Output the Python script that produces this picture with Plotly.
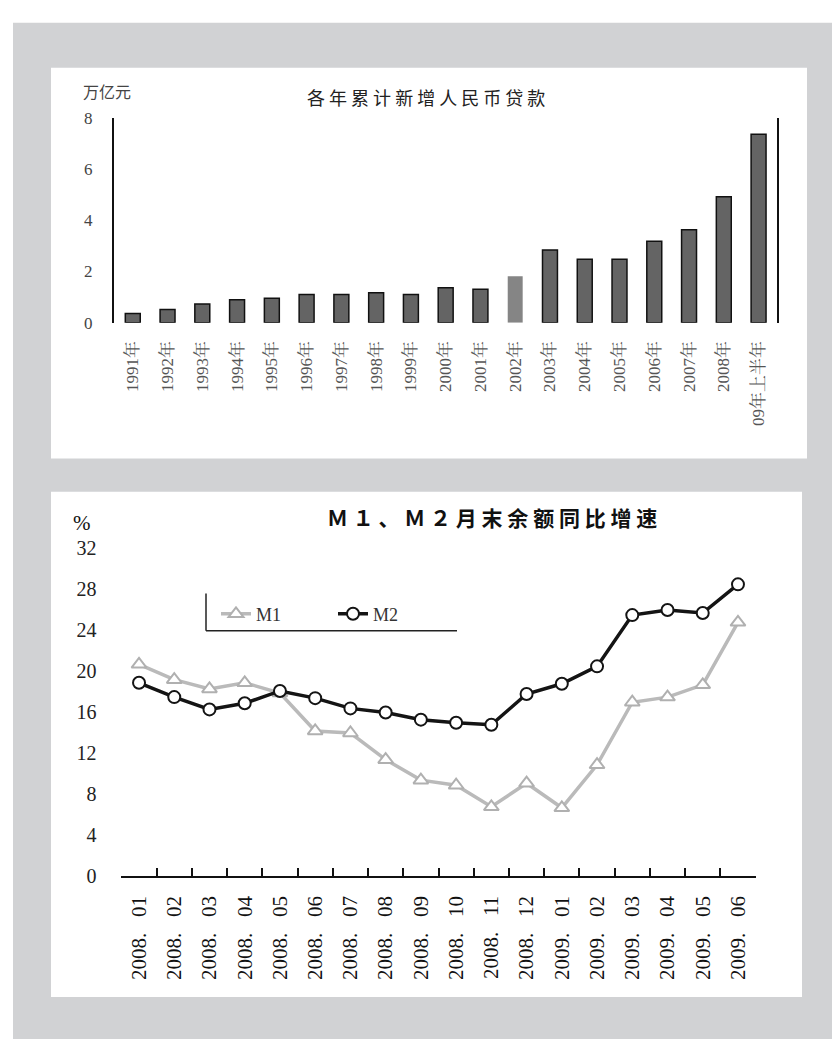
import plotly.graph_objects as go

# ---------------- data ----------------
years = ["1991年", "1992年", "1993年", "1994年", "1995年", "1996年", "1997年",
         "1998年", "1999年", "2000年", "2001年", "2002年", "2003年", "2004年",
         "2005年", "2006年", "2007年", "2008年", "09年上半年"]
new_loans = [0.36, 0.51, 0.73, 0.89, 0.95, 1.10, 1.10, 1.17, 1.10, 1.36, 1.30,
             1.81, 2.84, 2.47, 2.47, 3.18, 3.63, 4.91, 7.35]

months = ["2008. 01", "2008. 02", "2008. 03", "2008. 04", "2008. 05", "2008. 06",
          "2008. 07", "2008. 08", "2008. 09", "2008. 10", "2008. 11", "2008. 12",
          "2009. 01", "2009. 02", "2009. 03", "2009. 04", "2009. 05", "2009. 06"]
m1 = [20.7, 19.2, 18.3, 18.9, 17.9, 14.2, 14.0, 11.4, 9.4, 8.9, 6.8, 9.1,
      6.7, 10.9, 17.0, 17.5, 18.7, 24.8]
m2 = [18.9, 17.5, 16.3, 16.9, 18.1, 17.4, 16.4, 16.0, 15.3, 15.0, 14.8, 17.8,
      18.8, 20.5, 25.5, 26.0, 25.7, 28.5]

top_title = "各年累计新增人民币贷款"
top_unit = "万亿元"
bottom_title = "Ｍ１、Ｍ２月末余额同比增速"

# ---------------- layout helpers ----------------
W, H = 832, 1050
def px(x):
    return x / W
def py(y):
    return 1 - y / H

SERIF = "Liberation Serif, Noto Serif CJK SC, Noto Sans CJK SC, serif"
CJK = "Noto Sans CJK SC, sans-serif"

bar_colors = ["#858585" if y == "2002年" else "#646464" for y in years]
bar_line = ["rgba(0,0,0,0)" if y == "2002年" else "#111111" for y in years]

fig = go.Figure()

fig.add_trace(go.Bar(
    x=years, y=new_loans, xaxis="x", yaxis="y",
    marker=dict(color=bar_colors, line=dict(color=bar_line, width=1.5)),
    showlegend=False,
))

month_labels = [m.replace(". ", ".\u2002 ") for m in months]

fig.add_trace(go.Scatter(
    x=month_labels, y=m1, xaxis="x2", yaxis="y2", name="M1",
    mode="lines+markers",
    line=dict(color="#bababa", width=3.5),
    marker=dict(symbol="triangle-up", size=13, color="white",
                line=dict(color="#b0b0b0", width=2)),
))
fig.add_trace(go.Scatter(
    x=month_labels, y=m2, xaxis="x2", yaxis="y2", name="M2",
    mode="lines+markers",
    line=dict(color="#141414", width=3.5),
    marker=dict(symbol="circle", size=12, color="white",
                line=dict(color="#141414", width=2)),
))

shapes = [
    # grey backdrop (white margin at top and left)
    dict(type="rect", xref="paper", yref="paper", x0=px(13), x1=1, y0=0, y1=py(12),
         fillcolor="#d1d2d4", line=dict(width=0), layer="below"),
    # white panels
    dict(type="rect", xref="paper", yref="paper", x0=px(51), x1=px(807), y0=py(457), y1=py(58),
         fillcolor="white", line=dict(width=0), layer="below"),
    dict(type="rect", xref="paper", yref="paper", x0=px(51), x1=px(802), y0=py(1007), y1=py(491),
         fillcolor="white", line=dict(width=0), layer="below"),
    # legend frame (left and bottom edges)
    dict(type="line", xref="paper", yref="paper", x0=px(206), x1=px(206), y0=py(595), y1=py(633),
         line=dict(color="#222", width=1.5)),
    dict(type="line", xref="paper", yref="paper", x0=px(206), x1=px(457), y0=py(633), y1=py(633),
         line=dict(color="#222", width=1.5)),
]

annotations = [
    dict(text=top_unit, x=px(107), y=py(82), xref="paper", yref="paper", showarrow=False,
         font=dict(family=CJK, size=16, color="#444"), xanchor="center", yanchor="middle"),
    dict(text=" ".join(top_title), x=px(426), y=py(88), xref="paper", yref="paper", showarrow=False,
         font=dict(family=CJK, size=18, color="#222"), xanchor="center", yanchor="middle"),
    dict(text="%", x=px(82), y=py(523), xref="paper", yref="paper", showarrow=False,
         font=dict(family=SERIF, size=21, color="#111"), xanchor="center", yanchor="middle"),
    dict(text="<b>" + " ".join(bottom_title) + "</b>", x=px(492), y=py(517), xref="paper", yref="paper",
         showarrow=False, font=dict(family=CJK, size=21, color="#111"),
         xanchor="center", yanchor="middle"),
]

fig.update_layout(
    width=W, height=H,
    margin=dict(l=0, r=0, t=0, b=0),
    paper_bgcolor="white",
    plot_bgcolor="rgba(0,0,0,0)",
    bargap=0.57,
    shapes=shapes,
    annotations=annotations,
    xaxis=dict(
        domain=[px(114), px(777)], anchor="y", type="category",
        range=[-0.54, 18.53], showline=False, showgrid=False, zeroline=False,
        ticks="", tickangle=-90, ticklabelstandoff=14,
        tickfont=dict(family=SERIF, size=17, color="#555"),
    ),
    yaxis=dict(
        domain=[py(318.3), py(109)], anchor="x", range=[0, 8], dtick=2,
        showline=True, mirror=True, linecolor="#111", linewidth=2,
        showgrid=False, zeroline=False, ticks="", ticklabelstandoff=16,
        tickfont=dict(family=SERIF, size=17, color="#444"),
    ),
    xaxis2=dict(
        domain=[px(121.4), px(755.6)], anchor="y2", type="category",
        range=[-0.5, 17.5], showline=True, linecolor="#111", linewidth=2,
        showgrid=False, zeroline=False,
        ticks="inside", tickson="boundaries", ticklen=8, tickwidth=1.5, tickcolor="#111",
        tickangle=-90, ticklabelstandoff=9,
        tickfont=dict(family=SERIF, size=21, color="#111"),
    ),
    yaxis2=dict(
        domain=[py(884), py(549)], anchor="x2", range=[0, 32], dtick=4,
        showline=False, showgrid=False, zeroline=False, ticks="",
        ticklabelstandoff=24,
        tickfont=dict(family=SERIF, size=20, color="#222"),
    ),
    legend=dict(
        orientation="h", x=px(216), y=py(616), xanchor="left", yanchor="middle",
        bgcolor="rgba(0,0,0,0)", borderwidth=0,
        font=dict(family=SERIF, size=18, color="#333"),
        entrywidth=72, entrywidthmode="pixels",
    ),
)

fig.write_html("out.html")
